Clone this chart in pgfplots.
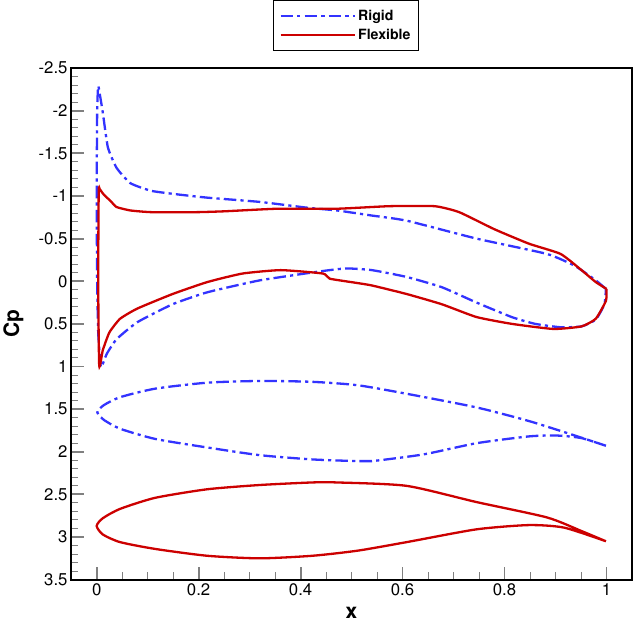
\documentclass[border=0pt]{standalone}
\usepackage[T1]{fontenc}
\usepackage{helvet}
\renewcommand{\familydefault}{\sfdefault}
\usepackage{pgfplots}
\pgfplotsset{compat=1.18}
\definecolor{rigid}{RGB}{51,51,255}
\definecolor{flex}{RGB}{204,0,0}
\begin{document}
\begin{tikzpicture}
\begin{axis}[
  scale only axis, width=536pt, height=489pt,
  xmin=-0.05, xmax=1.05, ymin=-2.5, ymax=3.5, y dir=reverse,
  xtick={0,0.2,0.4,0.6,0.8,1},
  ytick={-2.5,-2,-1.5,-1,-0.5,0,0.5,1,1.5,2,2.5,3,3.5},
  minor x tick num=3, minor y tick num=4,
  tick align=inside, xtick pos=left, ytick pos=left,
  major tick length=12pt, minor tick length=7pt,
  every major tick/.append style={line width=1.8pt},
  every minor tick/.append style={line width=0.9pt},
  every outer x axis line/.append style={line width=2pt},
  every outer y axis line/.append style={line width=2pt},
  /pgf/number format/assume math mode=true,
  ticklabel style={font=\fontsize{16}{19}\selectfont},
  xlabel={x}, ylabel={Cp},
  label style={font=\fontsize{20}{24}\selectfont\bfseries},
  xlabel style={yshift=-4pt},
  ylabel style={yshift=8pt},
  legend style={at={(0.49,1.133)}, anchor=north, draw=black, line width=1pt,
    font=\fontsize{13.5}{16}\selectfont\bfseries, row sep=3pt,
    inner xsep=6pt, inner ysep=7pt},
  legend cell align=left,
  legend image code/.code={\draw[#1] (0pt,0pt) -- (71pt,0pt);},
]
\addplot[rigid, line width=2.2pt, smooth, tension=0.3, dash pattern=on 12pt off 4pt on 3pt off 4pt] coordinates {
(0.999,0.09) (0.979,-0.01) (0.938,-0.18) (0.883,-0.32) (0.745,-0.50) (0.608,-0.71) (0.540,-0.77) (0.471,-0.83) (0.416,-0.86) (0.320,-0.93) (0.217,-0.98) (0.156,-1.02) (0.107,-1.06) (0.066,-1.15) (0.039,-1.33) (0.022,-1.57) (0.012,-1.98) (0.006,-2.20) (0.003,-2.29)
(0.001,-2.0) (0.000,-1.0) (0.001,0.0) (0.003,0.6) (0.008,1.0)
(0.012,0.97) (0.020,0.85) (0.039,0.68) (0.080,0.48) (0.149,0.27) (0.217,0.13) (0.320,-0.01) (0.444,-0.12) (0.490,-0.15) (0.540,-0.13) (0.608,-0.05) (0.677,0.07) (0.745,0.25) (0.814,0.42) (0.860,0.50) (0.910,0.54) (0.951,0.53) (0.979,0.45) (0.996,0.27) (0.999,0.09)
};
\addlegendentry{Rigid}
\addplot[flex, line width=2.2pt, smooth, tension=0.3] coordinates {
(1.000,0.09) (0.979,0.01) (0.951,-0.13) (0.910,-0.32) (0.848,-0.44) (0.780,-0.61) (0.711,-0.81) (0.663,-0.88) (0.574,-0.88) (0.471,-0.85) (0.354,-0.85) (0.251,-0.82) (0.197,-0.81) (0.107,-0.81) (0.066,-0.83) (0.039,-0.87) (0.029,-0.93) (0.022,-0.97) (0.012,-1.03) (0.006,-1.08) (0.004,-1.05)
(0.003,0.0) (0.005,0.99)
(0.012,0.81) (0.025,0.60) (0.046,0.44) (0.080,0.32) (0.149,0.15) (0.217,0.01) (0.286,-0.09) (0.361,-0.13) (0.444,-0.09) (0.457,-0.03) (0.510,0.02) (0.540,0.05) (0.608,0.15) (0.677,0.27) (0.745,0.42) (0.814,0.50) (0.896,0.56) (0.951,0.53) (0.979,0.44) (0.999,0.23) (1.000,0.09)
};
\addlegendentry{Flexible}
\addplot[rigid, line width=2.2pt, smooth, tension=0.4, dash pattern=on 12pt off 4pt on 3pt off 4pt, forget plot] coordinates {
(0.999,1.93) (0.938,1.81) (0.848,1.64) (0.745,1.48) (0.608,1.32) (0.512,1.22) (0.423,1.18) (0.320,1.17) (0.217,1.19) (0.115,1.26) (0.046,1.36) (0.015,1.45) (0.002,1.52) (0.003,1.56) (0.015,1.63) (0.046,1.73) (0.115,1.85) (0.217,1.95) (0.320,2.04) (0.423,2.09) (0.512,2.11) (0.540,2.11) (0.642,2.03) (0.745,1.90) (0.848,1.82) (0.903,1.81) (0.951,1.84) (0.999,1.93)
};
\addplot[flex, line width=2.2pt, smooth, tension=0.4, forget plot] coordinates {
(0.999,3.05) (0.951,2.93) (0.883,2.77) (0.745,2.59) (0.608,2.40) (0.471,2.36) (0.423,2.36) (0.320,2.39) (0.217,2.44) (0.115,2.54) (0.046,2.67) (0.012,2.78) (0.000,2.87) (0.012,2.97) (0.046,3.06) (0.115,3.14) (0.217,3.22) (0.320,3.25) (0.423,3.22) (0.512,3.16) (0.608,3.06) (0.745,2.91) (0.848,2.86) (0.917,2.89) (0.999,3.05)
};
\end{axis}
\end{tikzpicture}
\end{document}
